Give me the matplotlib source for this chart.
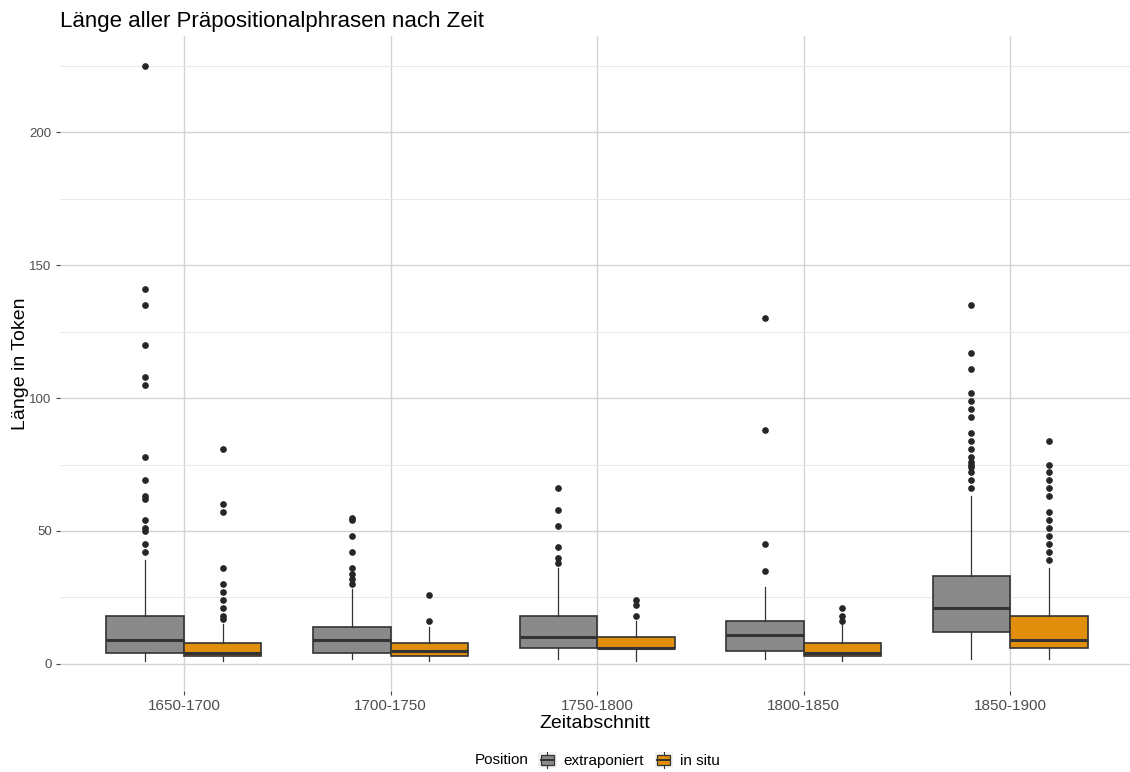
import matplotlib
matplotlib.use("Agg")
import matplotlib.pyplot as plt
from matplotlib.legend_handler import HandlerBase
from matplotlib.patches import Rectangle
from matplotlib.lines import Line2D
from matplotlib.ticker import MultipleLocator

plt.rcParams['font.family'] = ['Liberation Sans', 'DejaVu Sans']

categories = ["1650-1700", "1700-1750", "1750-1800", "1800-1850", "1850-1900"]
series_names = ["extraponiert", "in situ"]
colors = ["#8a8a8a", "#e08e0b"]

# extraponiert
ex_lo = [1, 2, 2, 2, 2]
ex_q1 = [4, 4, 6, 5, 12]
ex_med = [9, 9, 10, 11, 21]
ex_q3 = [18, 14, 18, 16, 33]
ex_hi = [39, 28, 36, 29, 63]
ex_out = [
    [225, 141, 135, 120, 108, 105, 78, 69, 63, 62, 54, 51, 50, 45, 42],
    [55, 54, 48, 42, 36, 34, 32, 30],
    [66, 58, 52, 44, 40, 38],
    [130, 88, 45, 35],
    [135, 117, 111, 102, 99, 96, 93, 87, 84, 81, 78, 76, 75, 74, 72, 69, 66],
]

# in situ
in_lo = [1, 1, 1, 1, 2]
in_q1 = [3, 3, 6, 3, 6]
in_med = [4, 5, 6, 4, 9]
in_q3 = [8, 8, 10, 8, 18]
in_hi = [15, 14, 16, 15, 36]
in_out = [
    [81, 60, 57, 36, 30, 27, 24, 21, 18, 17],
    [26, 16],
    [24, 22, 18],
    [21, 18, 16],
    [84, 75, 72, 69, 66, 63, 57, 54, 51, 48, 45, 42, 39],
]

W, H = 1130, 772
fig = plt.figure(figsize=(W / 100, H / 100), dpi=100)
ax = fig.add_axes([60 / W, 1 - 691 / H, 1070 / W, 655 / H])

box_w = 0.375
edge = "#333333"

def make_stats(lo, q1, med, q3, hi, out):
    return [dict(whislo=lo[i], q1=q1[i], med=med[i], q3=q3[i], whishi=hi[i], fliers=out[i])
            for i in range(len(categories))]

groups = [
    make_stats(ex_lo, ex_q1, ex_med, ex_q3, ex_hi, ex_out),
    make_stats(in_lo, in_q1, in_med, in_q3, in_hi, in_out),
]
offsets = [-box_w / 2, box_w / 2]

for g, stats in enumerate(groups):
    pos = [i + 1 + offsets[g] for i in range(len(categories))]
    ax.bxp(stats, positions=pos, widths=box_w, patch_artist=True, showcaps=False,
           boxprops=dict(facecolor=colors[g], edgecolor=edge, linewidth=1.2),
           medianprops=dict(color=edge, linewidth=2.2),
           whiskerprops=dict(color=edge, linewidth=0.9),
           flierprops=dict(marker='o', markerfacecolor='#262626', markeredgecolor='#262626',
                           markersize=3.8, linestyle='none'),
           manage_ticks=False, zorder=3)

ax.set_xlim(0.4, 5.58)
ax.set_ylim(-10.2, 236.2)
ax.set_xticks(range(1, len(categories) + 1))
ax.set_xticklabels(categories)
ax.yaxis.set_major_locator(MultipleLocator(50))
ax.yaxis.set_minor_locator(MultipleLocator(25))

ax.grid(which='major', axis='both', color='#d4d4d4', linewidth=1.0, zorder=0)
ax.grid(which='minor', axis='y', color='#e8e8e8', linewidth=0.7, zorder=0)
ax.set_axisbelow(True)
for s in ax.spines.values():
    s.set_visible(False)
ax.tick_params(axis='x', which='major', length=3, color='#444444', labelsize=11,
               labelcolor='#4d4d4d', pad=3)
ax.tick_params(axis='y', which='major', length=3, color='#444444', labelsize=9.5,
               labelcolor='#4d4d4d', pad=3)
ax.tick_params(which='minor', length=0)

ax.set_xlabel("Zeitabschnitt", fontsize=14, va='center')
ax.set_ylabel("Länge in Token", fontsize=14, va='center')
ax.xaxis.set_label_coords(0.5, (691 - 724) / 655)
ax.yaxis.set_label_coords((21 - 60) / 1070, 0.5)

fig.text(60 / W, 1 - 21 / H, "Länge aller Präpositionalphrasen nach Zeit", fontsize=16,
         ha='left', va='center')


class BoxKeyHandler(HandlerBase):
    def __init__(self, color):
        super().__init__()
        self.color = color

    def create_artists(self, legend, orig_handle, xdescent, ydescent, width, height, fontsize, trans):
        bg = Rectangle((-xdescent, -ydescent), width, height, facecolor='#f2f2f2',
                       edgecolor='none', transform=trans)
        cx = -xdescent + width / 2
        bw = width * 0.72
        by0 = -ydescent + height * 0.22
        bh = height * 0.56
        wl = Line2D([cx, cx], [-ydescent + height * 0.04, -ydescent + height * 0.96],
                    color=edge, linewidth=0.8, transform=trans)
        box = Rectangle((cx - bw / 2, by0), bw, bh, facecolor=self.color, edgecolor=edge,
                        linewidth=0.9, transform=trans)
        med = Line2D([cx - bw / 2, cx + bw / 2], [by0 + bh / 2, by0 + bh / 2], color=edge,
                     linewidth=1.4, transform=trans)
        return [bg, wl, box, med]


handles = [Rectangle((0, 0), 1, 1) for _ in series_names]
leg = fig.legend(handles, series_names, ncol=2, loc='center',
                 bbox_to_anchor=(629 / W, 1 - 760 / H), frameon=False, fontsize=11,
                 handler_map={handles[0]: BoxKeyHandler(colors[0]),
                              handles[1]: BoxKeyHandler(colors[1])},
                 handlelength=1.2, handleheight=1.3, handletextpad=0.45,
                 columnspacing=0.7, borderpad=0, borderaxespad=0)
fig.text(529 / W, 1 - 760 / H, "Position", fontsize=11, ha='right', va='center')

fig.savefig("out.png", dpi=100)
